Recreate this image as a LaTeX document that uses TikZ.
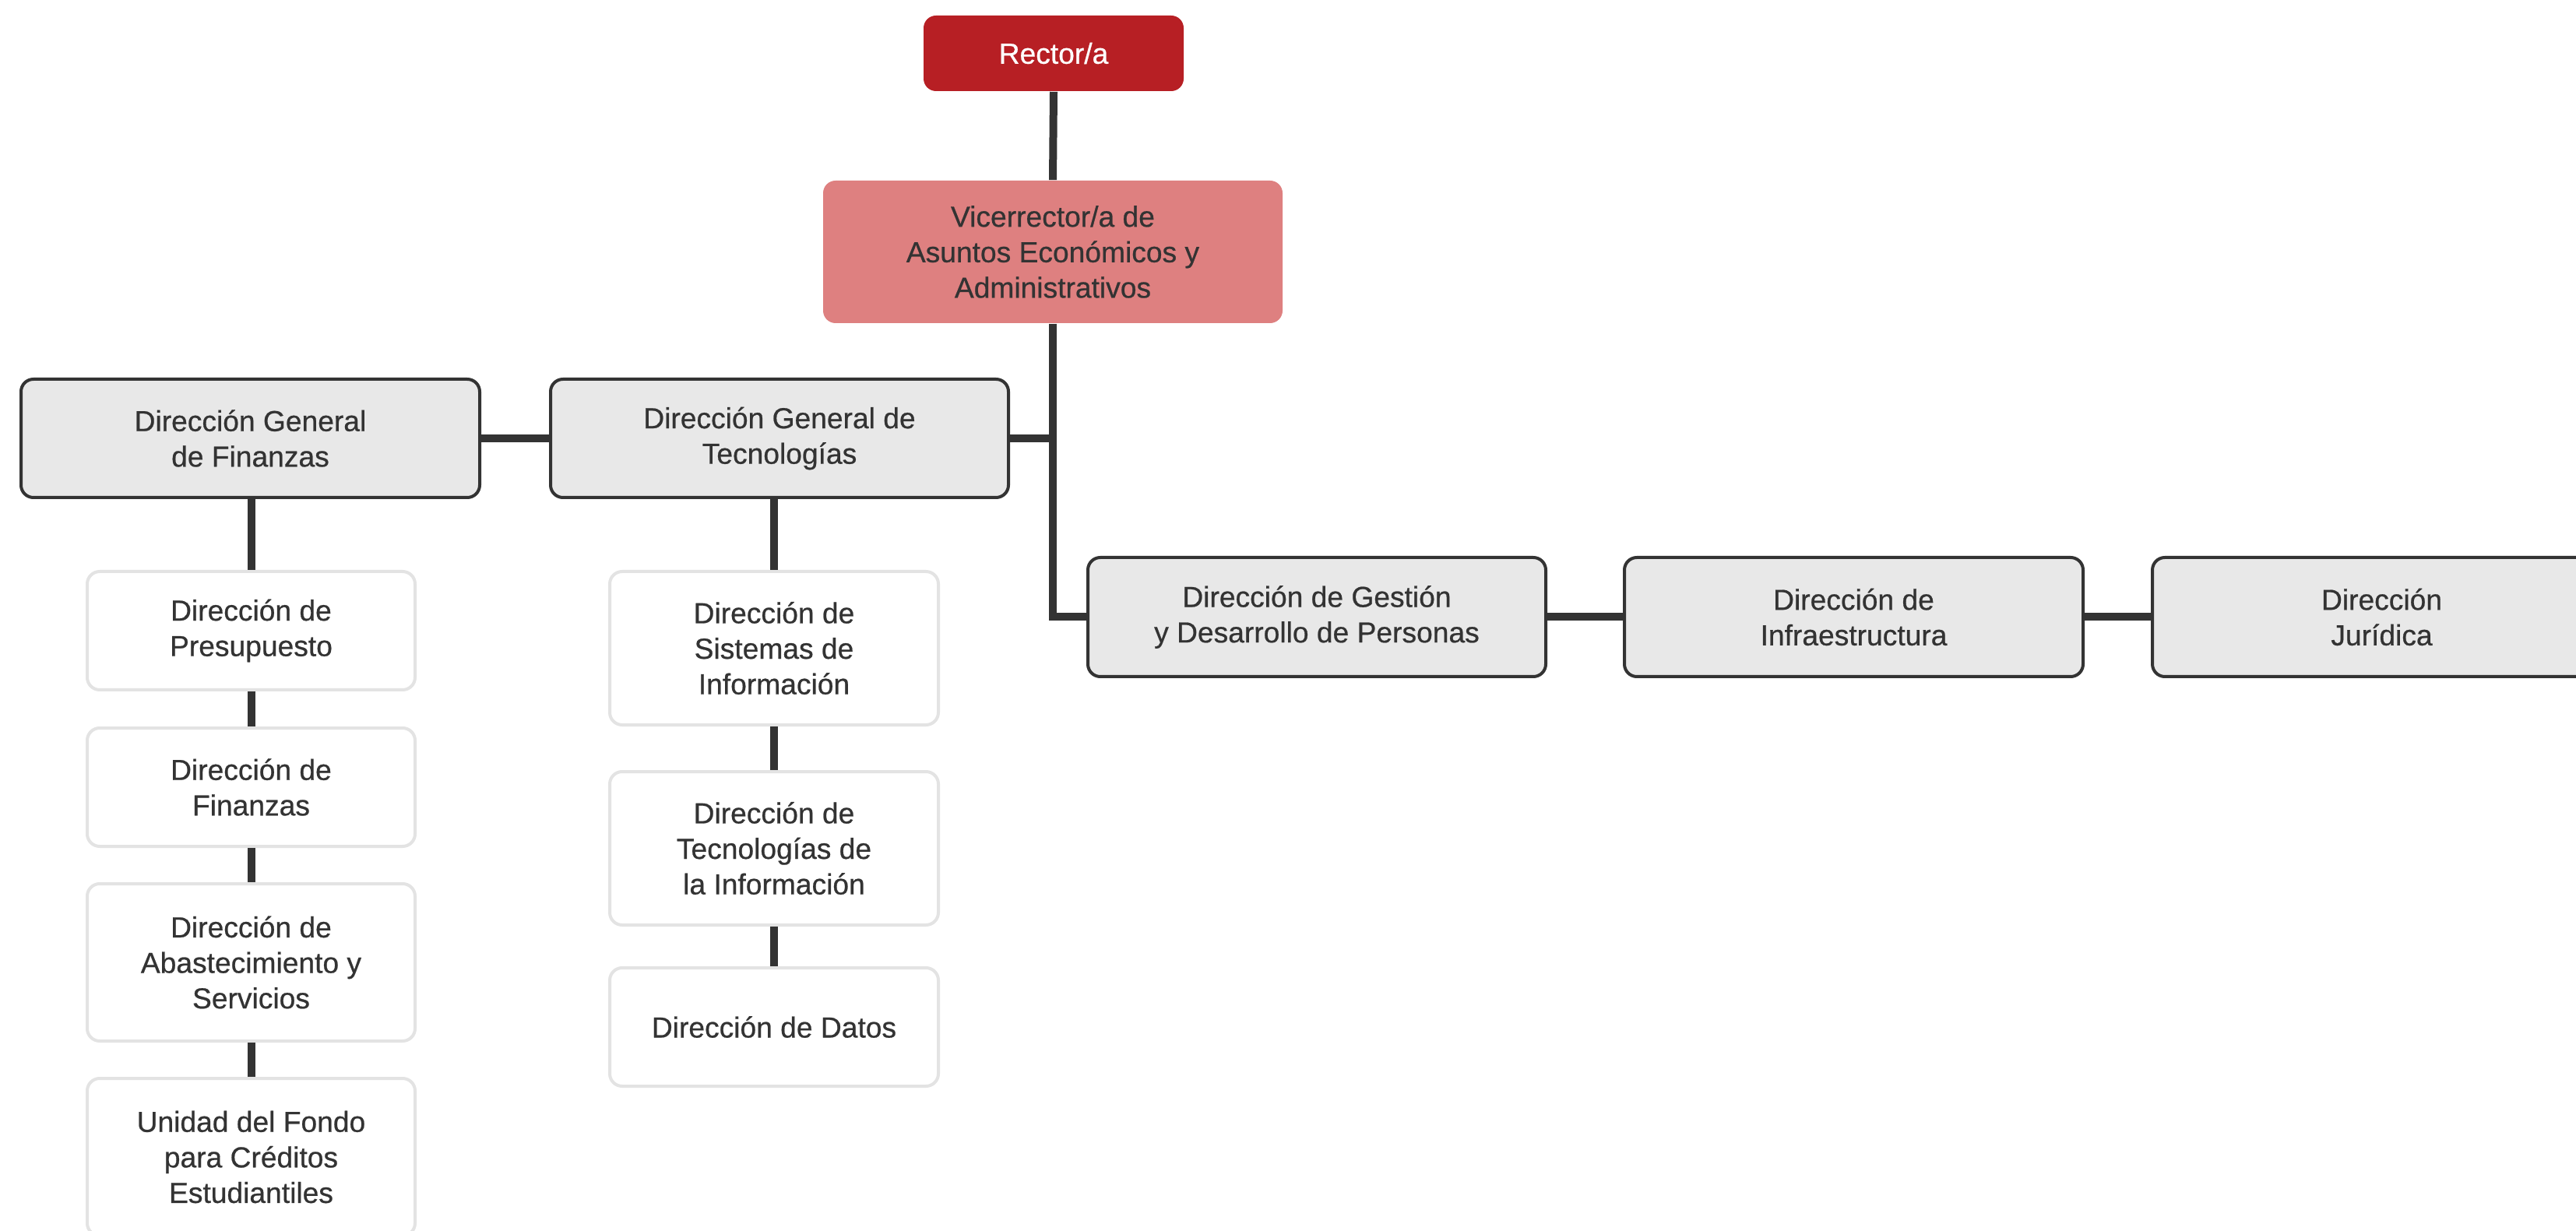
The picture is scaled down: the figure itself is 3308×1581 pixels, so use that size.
\documentclass[tikz,border=0pt]{standalone}
\usepackage{fontspec}
\setmainfont{Liberation Sans}[FakeBold=0.5]
\newfontfamily\medfont{Liberation Sans}[FakeBold=0.6]
\definecolor{rectorred}{HTML}{B71F24}
\definecolor{vicepink}{HTML}{DE8080}
\definecolor{boxgray}{HTML}{E8E8E8}
\definecolor{linedark}{HTML}{333333}
\definecolor{lightborder}{HTML}{E3E3E3}
\tikzset{
  base/.style={rounded corners=4pt, align=center, inner sep=0pt,
    font=\medfont\fontsize{9.3pt}{11.4pt}\selectfont\addfontfeatures{FakeBold=0.6}, text=linedark},
  sz/.style 2 args={minimum width=#1*0.25pt, minimum height=#2*0.25pt},
  rectorbox/.style={base, fill=rectorred, text=white, draw=none},
  vicebox/.style={base, fill=vicepink, draw=none},
  graybox/.style={base, fill=boxgray, draw=linedark, line width=1pt},
  whitebox/.style={base, fill=white, draw=lightborder, line width=1pt},
  conn/.style={draw=linedark, line width=2.5pt}
}
\begin{document}
\begin{tikzpicture}[x=0.25pt, y=-0.25pt]
\useasboundingbox (0,0) rectangle (3308,1581);
\clip (0,0) rectangle (3308,1581);
% top
\node[rectorbox, sz={334}{97}] (rector) at (1353,68.5) {Rector/a};
\node[vicebox, sz={590}{183}] (vice) at (1352,323.5) {Vicerrector/a de\\Asuntos Económicos y\\Administrativos};
% general directions
\node[graybox, sz={589}{152}] (dgfin) at (321.5,563) {Dirección General\\de Finanzas};
\node[graybox, sz={588}{152}] (dgtec) at (1001,563) {Dirección General de\\Tecnologías};
\node[graybox, sz={588}{153}] (gest) at (1691,792.5) {Dirección de Gestión\\y Desarrollo de Personas};
\node[graybox, sz={589}{153}] (infra) at (2380.5,792.5) {Dirección de\\Infraestructura};
\node[graybox, sz={589}{153}] (jur) at (3058.5,792.5) {Dirección\\Jurídica};
% finance column
\node[whitebox, sz={421}{152}] (pres) at (322.5,810) {Dirección de\\Presupuesto};
\node[whitebox, sz={421}{152}] (fin) at (322.5,1011) {Dirección de\\Finanzas};
\node[whitebox, sz={421}{202}] (abast) at (322.5,1236) {Dirección de\\Abastecimiento y\\Servicios};
\node[whitebox, sz={421}{202}] (fondo) at (322.5,1486) {Unidad del Fondo\\para Créditos\\Estudiantiles};
% technology column
\node[whitebox, sz={422}{197}] (sist) at (994,832.5) {Dirección de\\Sistemas de\\Información};
\node[whitebox, sz={422}{197}] (tinfo) at (994,1089.5) {Dirección de\\Tecnologías de\\la Información};
\node[whitebox, sz={422}{152}] (datos) at (994,1319) {Dirección de Datos};
% connectors
\draw[conn] (rector.south) -- (vice.north);
\draw[conn] (vice.south) |- (gest.west);
\draw[conn] (dgtec.east) -- (dgtec.east -| vice.south);
\draw[conn] (dgfin.east) -- (dgtec.west);
\draw[conn] (gest.east) -- (infra.west);
\draw[conn] (infra.east) -- (jur.west);
\draw[conn] (pres.north |- dgfin.south) -- (pres.north);
\draw[conn] (pres.south) -- (fin.north);
\draw[conn] (fin.south) -- (abast.north);
\draw[conn] (abast.south) -- (fondo.north);
\draw[conn] (sist.north |- dgtec.south) -- (sist.north);
\draw[conn] (sist.south) -- (tinfo.north);
\draw[conn] (tinfo.south) -- (datos.north);
\end{tikzpicture}
\end{document}
